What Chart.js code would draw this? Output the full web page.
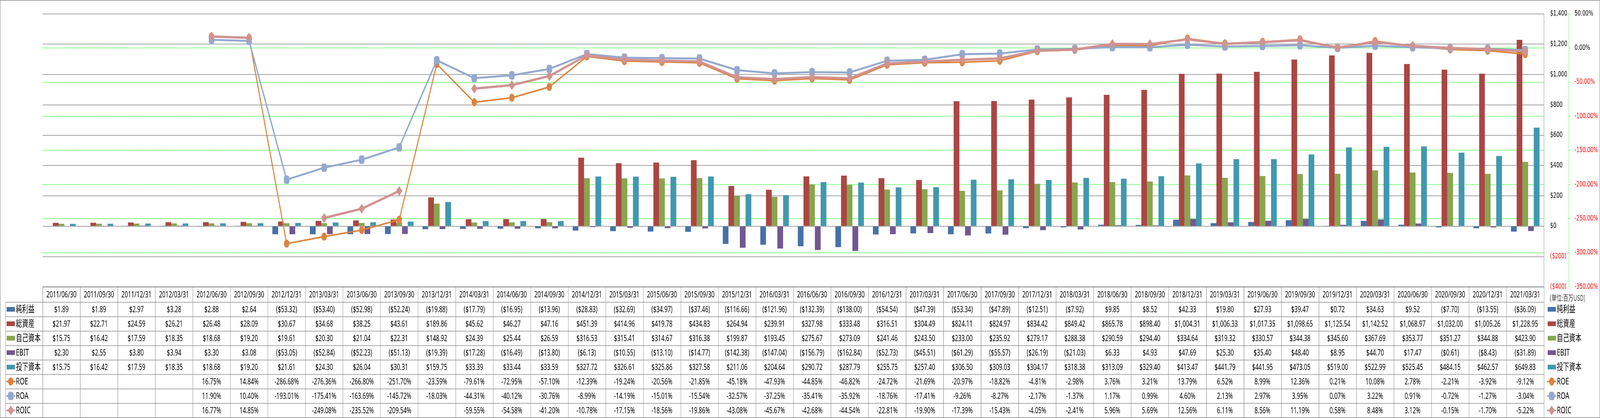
<!DOCTYPE html>
<html>
<head>
<meta charset="utf-8">
<title>純利益・総資産・自己資本・EBIT・投下資本 / ROE・ROA・ROIC</title>
<script src="https://cdn.jsdelivr.net/npm/chart.js@4.4.1/dist/chart.umd.min.js"></script>
<style>
  html, body { margin: 0; padding: 0; background: #fff; overflow: hidden; }
  #chart { display: block; }
</style>
</head>
<body>
<!-- drawn at 6226x1071, shown at the size of the window -->
<canvas id="chart" width="6226" height="1071" style="width:100vw;height:100vh"></canvas>
<script>
// quarter ends, 2011/06 .. 2021/03
const CATEGORIES = [
  '2011/06/30','2011/09/30','2011/12/31','2012/03/31','2012/06/30','2012/09/30','2012/12/31','2013/03/31',
  '2013/06/30','2013/09/30','2013/12/31','2014/03/31','2014/06/30','2014/09/30','2014/12/31','2015/03/31',
  '2015/06/30','2015/09/30','2015/12/31','2016/03/31','2016/06/30','2016/09/30','2016/12/31','2017/03/31',
  '2017/06/30','2017/09/30','2017/12/31','2018/03/31','2018/06/30','2018/09/30','2018/12/31','2019/03/31',
  '2019/06/30','2019/09/30','2019/12/31','2020/03/31','2020/06/30','2020/09/30','2020/12/31','2021/03/31'
];

// million USD
const NET_INCOME = [1.89, 1.89, 2.97, 3.28, 2.88, 2.64, -53.32, -53.40, -52.98, -52.24, -19.88, -17.79, -16.95, -13.96,
  -28.83, -32.69, -34.97, -37.46, -116.66, -121.96, -132.39, -138.00, -54.54, -47.39, -53.34, -47.89, -12.51, -7.92,
  9.85, 8.52, 42.33, 19.80, 27.93, 39.47, 0.72, 34.63, 9.52, -7.70, -13.55, -36.09];
const TOTAL_ASSETS = [21.97, 22.71, 24.59, 26.21, 26.48, 28.09, 30.67, 34.68, 38.25, 43.61, 189.86, 45.62, 46.27, 47.16,
  451.39, 414.96, 419.78, 434.83, 264.94, 239.91, 327.98, 333.48, 316.51, 304.49, 824.11, 824.97, 834.42, 849.42,
  865.78, 898.40, 1004.31, 1006.33, 1017.35, 1098.65, 1125.54, 1142.52, 1068.97, 1032.00, 1005.26, 1228.95];
const EQUITY = [15.75, 16.42, 17.59, 18.35, 18.68, 19.20, 19.61, 20.30, 21.04, 22.31, 148.92, 24.39, 25.44, 26.59,
  316.53, 315.41, 314.67, 316.38, 199.87, 193.45, 275.67, 273.09, 241.46, 243.50, 233.00, 235.92, 279.17, 288.38,
  290.59, 294.40, 334.64, 319.32, 330.57, 344.38, 345.60, 367.69, 353.77, 351.27, 344.88, 423.90];
const EBIT = [2.30, 2.55, 3.80, 3.94, 3.30, 3.08, -53.05, -52.84, -52.23, -51.13, -19.39, -17.28, -16.49, -13.80,
  -6.13, -10.55, -13.10, -14.77, -142.38, -147.04, -156.79, -162.84, -52.73, -45.51, -61.29, -55.57, -26.19, -21.03,
  6.33, 4.93, 47.69, 25.30, 35.40, 48.40, 8.95, 44.70, 17.47, -0.61, -8.43, -31.89];
const INVESTED_CAPITAL = [15.75, 16.42, 17.59, 18.35, 18.68, 19.20, 21.61, 24.30, 26.04, 30.31, 159.75, 33.39, 33.44, 33.59,
  327.72, 326.61, 325.86, 327.58, 211.06, 204.64, 290.72, 287.79, 255.75, 257.40, 306.50, 309.03, 304.17, 318.38,
  313.09, 329.40, 413.47, 441.79, 441.95, 473.05, 519.00, 522.99, 525.45, 484.15, 462.57, 649.83];

// percent
const ROE = [null, null, null, null, 16.75, 14.84, -286.68, -276.36, -266.80, -251.70, -23.59, -79.61, -72.95, -57.10,
  -12.39, -19.24, -20.56, -21.85, -45.18, -47.93, -44.85, -46.82, -24.72, -21.69, -20.97, -18.82, -4.81, -2.98,
  3.76, 3.21, 13.79, 6.52, 8.99, 12.36, 0.21, 10.08, 2.78, -2.21, -3.92, -9.12];
const ROA = [null, null, null, null, 11.90, 10.40, -193.01, -175.41, -163.69, -145.72, -18.03, -44.31, -40.12, -30.76,
  -8.99, -14.19, -15.01, -15.54, -32.57, -37.25, -35.41, -35.92, -18.76, -17.41, -9.26, -8.27, -2.17, -1.37,
  1.17, 0.99, 4.60, 2.13, 2.97, 3.95, 0.07, 3.22, 0.91, -0.72, -1.27, -3.04];
const ROIC = [null, null, null, null, 16.77, 14.85, null, -249.08, -235.52, -209.54, null, -59.55, -54.58, -41.20,
  -10.78, -17.15, -18.56, -19.86, -43.08, -45.67, -42.68, -44.54, -22.81, -19.90, -17.39, -15.43, -4.05, -2.41,
  5.96, 5.69, 12.56, 6.11, 8.56, 11.19, 0.58, 8.48, 3.12, -0.15, -1.70, -5.22];

const MONEY_TICKS = { min: -400, max: 1400, step: 200 };
const PCT_TICKS = { min: -350, max: 50, step: 50 };
const UNIT_LABEL = '(単位:百万USD)';

const COLORS = {
  '純利益': '#4572A7', '総資産': '#AA4643', '自己資本': '#89A54E', 'EBIT': '#71588F', '投下資本': '#4198AF',
  'ROE': '#DB843D', 'ROA': '#93A9CF', 'ROIC': '#D19392'
};
const GRID_GREY = '#868686';
const GREEN = '#00FF00';

const fix2 = v => Math.abs(v).toLocaleString('en-US', { minimumFractionDigits: 2, maximumFractionDigits: 2 });
const fmtMoney = v => v == null ? '' : (v < 0 ? '($' + fix2(v) + ')' : '$' + fix2(v));
const fmtPct = v => v == null ? '' : v.toFixed(2) + '%';
const fmtAxisMoney = v => v < 0 ? '($' + Math.abs(v).toLocaleString('en-US') + ')' : '$' + v.toLocaleString('en-US');

const barSeries = [
  ['純利益', NET_INCOME], ['総資産', TOTAL_ASSETS], ['自己資本', EQUITY], ['EBIT', EBIT], ['投下資本', INVESTED_CAPITAL]
];
const lineSeries = [
  ['ROE', ROE, 'circle', 10, 4, 3],
  ['ROA', ROA, 'rectRounded', 12, 5, 2],
  ['ROIC', ROIC, 'rectRot', 12, 6, 1]
];

// rows of the data table under the plot (also the legend)
const ROWS = [
  ...barSeries.map(([name, data]) => ({ name, data, fmt: fmtMoney, kind: 'bar' })),
  ...lineSeries.map(([name, data, style, radius, width]) => ({ name, data, fmt: fmtPct, kind: 'line', style, radius, width }))
];

const TEXT_FONT = '22px "Noto Sans", "Noto Sans CJK JP", sans-serif';
const LABEL_FONT = '24px "Noto Sans", "Noto Sans CJK JP", sans-serif';

function drawKey(ctx, row, cx, cy) {
  const c = COLORS[row.name];
  ctx.save();
  if (row.kind === 'bar') {
    ctx.fillStyle = c;
    ctx.fillRect(cx - 16, cy - 6, 32, 12);
  } else {
    ctx.strokeStyle = c;
    ctx.fillStyle = c;
    ctx.lineWidth = 4;
    ctx.beginPath();
    ctx.moveTo(cx - 18, cy);
    ctx.lineTo(cx + 18, cy);
    ctx.stroke();
    ctx.lineWidth = 1;
    Chart.helpers.drawPoint(ctx, { pointStyle: row.style, radius: row.radius, rotation: 0, borderWidth: 1 }, cx, cy);
  }
  ctx.restore();
}

const tablePlugin = {
  id: 'dataTable',
  afterDraw(chart) {
    const { ctx, chartArea, scales: { x, y1 } } = chart;
    const W = chart.width, H = chart.height;
    const n = CATEGORIES.length;
    const colW = x.getPixelForValue(1) - x.getPixelForValue(0);
    const left = x.getPixelForValue(0) - colW / 2;
    const right = x.getPixelForValue(n - 1) + colW / 2;
    const top = chartArea.bottom;
    const headH = 39;
    const rowH = (H - 1 - top - headH) / ROWS.length;
    const labelLeft = 21;

    ctx.save();
    // dashed axis line of the percent scale
    ctx.strokeStyle = GREEN;
    ctx.lineWidth = 1.5;
    ctx.setLineDash([3, 2]);
    ctx.beginPath();
    ctx.moveTo(Math.round(y1.left) + 0.5, chartArea.top);
    ctx.lineTo(Math.round(y1.left) + 0.5, chartArea.bottom);
    ctx.stroke();
    ctx.setLineDash([]);

    // table grid
    ctx.strokeStyle = '#8c8c8c';
    ctx.lineWidth = 1.5;
    ctx.beginPath();
    const hy = v => Math.round(v) + 0.5;
    ctx.moveTo(left, hy(top)); ctx.lineTo(right, hy(top));
    for (let r = 0; r <= ROWS.length; r++) {
      const yy = hy(top + headH + r * rowH);
      ctx.moveTo(labelLeft, yy); ctx.lineTo(right, yy);
    }
    for (let i = 0; i <= n; i++) {
      const xx = hy(left + i * colW);
      ctx.moveTo(xx, top); ctx.lineTo(xx, top + headH + ROWS.length * rowH);
    }
    ctx.moveTo(hy(labelLeft), top + headH); ctx.lineTo(hy(labelLeft), top + headH + ROWS.length * rowH);
    ctx.stroke();

    // header + values
    ctx.fillStyle = '#000';
    ctx.font = TEXT_FONT;
    ctx.textAlign = 'center';
    ctx.textBaseline = 'middle';
    CATEGORIES.forEach((c, i) => {
      const cx = x.getPixelForValue(i);
      ctx.fillText(c, cx, top + headH / 2 + 1);
      ROWS.forEach((row, r) => {
        const t = row.fmt(row.data[i]);
        if (t) ctx.fillText(t, cx, top + headH + (r + 0.5) * rowH + 1);
      });
    });

    // row labels with keys, left column and right-hand legend
    const legendX = chartArea.right + 14;
    ROWS.forEach((row, r) => {
      const cy = top + headH + (r + 0.5) * rowH;
      drawKey(ctx, row, labelLeft + 21, cy);
      drawKey(ctx, row, legendX + 16, cy);
      ctx.fillStyle = '#000';
      ctx.font = LABEL_FONT;
      ctx.textAlign = 'left';
      ctx.fillText(row.name, labelLeft + 41, cy + 1);
      ctx.fillText(row.name, legendX + 36, cy + 1);
    });

    // unit
    ctx.fillStyle = '#333';
    ctx.font = '20px "Noto Sans CJK JP", sans-serif';
    ctx.textAlign = 'left';
    ctx.fillText(UNIT_LABEL, legendX + 8, top + headH / 2 + 9);

    // outer frame
    ctx.strokeStyle = GRID_GREY;
    ctx.lineWidth = 1.5;
    ctx.strokeRect(0.75, 0.75, W - 1.5, H - 1.5);
    ctx.restore();
  }
};

new Chart(document.getElementById('chart'), {
  data: {
    labels: CATEGORIES,
    datasets: [
      ...barSeries.map(([name, data]) => ({
        type: 'bar', label: name, data, yAxisID: 'y', order: 10,
        backgroundColor: COLORS[name], borderWidth: 0
      })),
      ...lineSeries.map(([name, data, style, radius, width, order]) => ({
        type: 'line', label: name, data, yAxisID: 'y1', order,
        borderColor: COLORS[name], backgroundColor: COLORS[name], borderWidth: width,
        pointStyle: style, pointRadius: radius, pointBorderWidth: 1, pointBackgroundColor: COLORS[name],
        borderJoinStyle: 'round', spanGaps: false, tension: 0
      }))
    ]
  },
  options: {
    responsive: false,
    animation: false,
    devicePixelRatio: 1,
    layout: { padding: { left: 166, top: 15, right: 0, bottom: 336 } },
    datasets: { bar: { categoryPercentage: 0.76, barPercentage: 1 } },
    plugins: { legend: { display: false }, tooltip: { enabled: false } },
    scales: {
      x: { display: false },
      y: {
        position: 'right', weight: 0,
        min: MONEY_TICKS.min, max: MONEY_TICKS.max,
        ticks: {
          stepSize: MONEY_TICKS.step, padding: 24,
          color: c => c.tick.value < 0 ? '#FF0000' : '#000',
          font: { family: 'DejaVu Sans', size: 19 },
          callback: v => fmtAxisMoney(v)
        },
        grid: { color: GRID_GREY, lineWidth: 1.5, drawTicks: false },
        border: { color: GRID_GREY, width: 1.5 },
        afterFit: s => { s.width = 96; }
      },
      y1: {
        position: 'right', weight: 1,
        min: PCT_TICKS.min, max: PCT_TICKS.max,
        ticks: {
          stepSize: PCT_TICKS.step, padding: 17,
          color: c => c.tick.value < 0 ? '#FF0000' : '#000',
          font: { family: 'DejaVu Sans', size: 19 },
          callback: v => v.toFixed(2) + '%'
        },
        grid: {
          // the end lines sit under the plot frame / table border
          color: c => (c.tick && (c.tick.value === PCT_TICKS.max || c.tick.value === PCT_TICKS.min)) ? 'rgba(0,0,0,0)' : GREEN,
          lineWidth: 1.5, tickLength: 6, tickColor: GREEN, tickWidth: 1.5, tickBorderDash: [3, 2]
        },
        border: { display: false, dash: [3, 2] },
        afterFit: s => { s.width = 122; }
      }
    }
  },
  plugins: [tablePlugin]
});
</script>
</body>
</html>
